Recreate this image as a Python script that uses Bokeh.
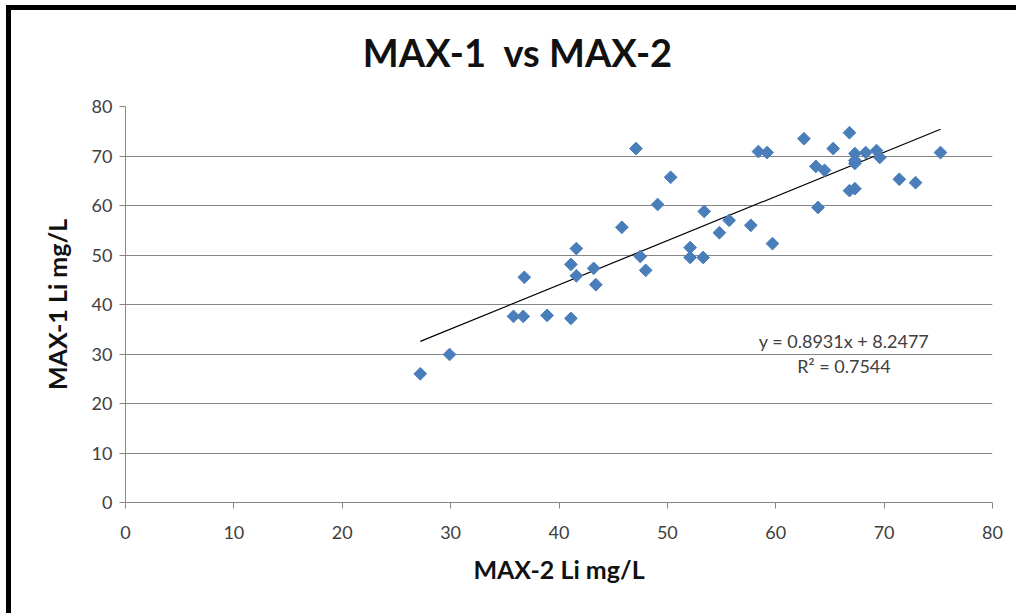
from bokeh.plotting import figure
from bokeh.models import Range1d, Label, FixedTicker, Div
from bokeh.layouts import column
from bokeh.embed import file_html
from bokeh.resources import INLINE
import math

# ---- data ----
max2_li = [27.2, 29.9, 35.8, 36.7, 36.8, 38.9, 41.1, 41.1, 41.6, 41.6, 43.2, 43.4,
           45.8, 47.1, 47.5, 48.0, 49.1, 50.3, 52.1, 52.1, 53.3, 53.4, 54.8, 55.7,
           57.7, 59.7, 58.4, 59.2, 62.6, 63.7, 64.5, 63.9, 65.3, 66.8, 67.3, 67.3,
           67.3, 66.8, 67.3, 68.3, 69.3, 69.6, 71.4, 72.9, 75.2]
max1_li = [26.0, 29.9, 37.6, 37.6, 45.5, 37.8, 37.2, 48.1, 51.3, 45.8, 47.3, 44.0,
           55.6, 71.5, 49.7, 46.9, 60.2, 65.7, 51.5, 49.5, 49.5, 58.8, 54.5, 57.0,
           56.0, 52.3, 70.9, 70.7, 73.5, 67.9, 67.1, 59.6, 71.5, 74.7, 70.5, 69.1,
           68.5, 63.0, 63.4, 70.7, 71.1, 69.7, 65.3, 64.6, 70.7]
trend_slope = 0.8931
trend_intercept = 8.2477
eq_text = "y = 0.8931x + 8.2477"
r2_text = "R\u00b2 = 0.7544"
axis_ticks = [0, 10, 20, 30, 40, 50, 60, 70, 80]
title_text = "MAX-1&nbsp; vs MAX-2"
x_title = "MAX-2 Li mg/L"
y_title = "MAX-1 Li mg/L"

FONT = "Lato"
GRAY = "#868686"
TXT = "#404040"

title_div = Div(
    text=('<div style="font-family: Lato; font-size: 38px; font-weight: bold; '
          'color: #111111; line-height: 38px; padding-top: 23px; '
          'width: 1005px; text-align: center; padding-left: 8px; '
          'box-sizing: border-box; white-space: nowrap;">' + title_text + '</div>'),
    width=1005, height=60, margin=(0, 0, 0, 0))

p = figure(width=1005, height=543, output_backend="svg", toolbar_location=None,
           x_range=Range1d(0, 80), y_range=Range1d(0, 80),
           min_border_left=114, min_border_right=24, min_border_top=36,
           min_border_bottom=111)
p.outline_line_color = None
p.background_fill_color = "white"
p.border_fill_color = "white"

p.xgrid.grid_line_color = None
p.ygrid.grid_line_color = GRAY
p.ygrid.grid_line_width = 1

for ax in (p.xaxis[0], p.yaxis[0]):
    ax.ticker = FixedTicker(ticks=axis_ticks)
    ax.axis_line_color = GRAY
    ax.major_tick_line_color = GRAY
    ax.major_tick_out = 6
    ax.major_tick_in = 0
    ax.minor_tick_line_color = None
    ax.major_label_text_font = FONT
    ax.major_label_text_font_size = "18px"
    ax.major_label_text_color = TXT
    ax.axis_label_text_font = FONT
    ax.axis_label_text_font_size = "25px"
    ax.axis_label_text_font_style = "bold"
    ax.axis_label_text_color = "#111111"

p.xaxis.axis_label = x_title
p.yaxis.axis_label = y_title
p.xaxis.major_label_standoff = 17
p.xaxis.axis_label_standoff = 12
p.yaxis.major_label_standoff = 7
p.yaxis.axis_label_standoff = 17

# trendline
xs = [min(max2_li), max(max2_li)]
ys = [trend_slope * v + trend_intercept for v in xs]
p.line(xs, ys, line_color="black", line_width=1.2)

# markers
p.scatter(max2_li, max1_li, marker="square", angle=math.pi / 4, size=9,
          fill_color="#4A7EBB", line_color="#4A7EBB")

# equation labels
p.add_layout(Label(x=66.3, y=32.6, text=eq_text, text_align="center",
                   text_baseline="middle", text_font=FONT, text_font_size="18px",
                   text_color=TXT))
p.add_layout(Label(x=66.3, y=27.5, text=r2_text, text_align="center",
                   text_baseline="middle", text_font=FONT, text_font_size="18px",
                   text_color=TXT))

layout = column(title_div, p, spacing=0,
                styles={"border-top": "5px solid black",
                        "border-left": "5px solid black",
                        "margin-left": "6px", "margin-top": "5px",
                        "background-color": "white"})

open("out.html", "w").write(file_html(layout, INLINE))
